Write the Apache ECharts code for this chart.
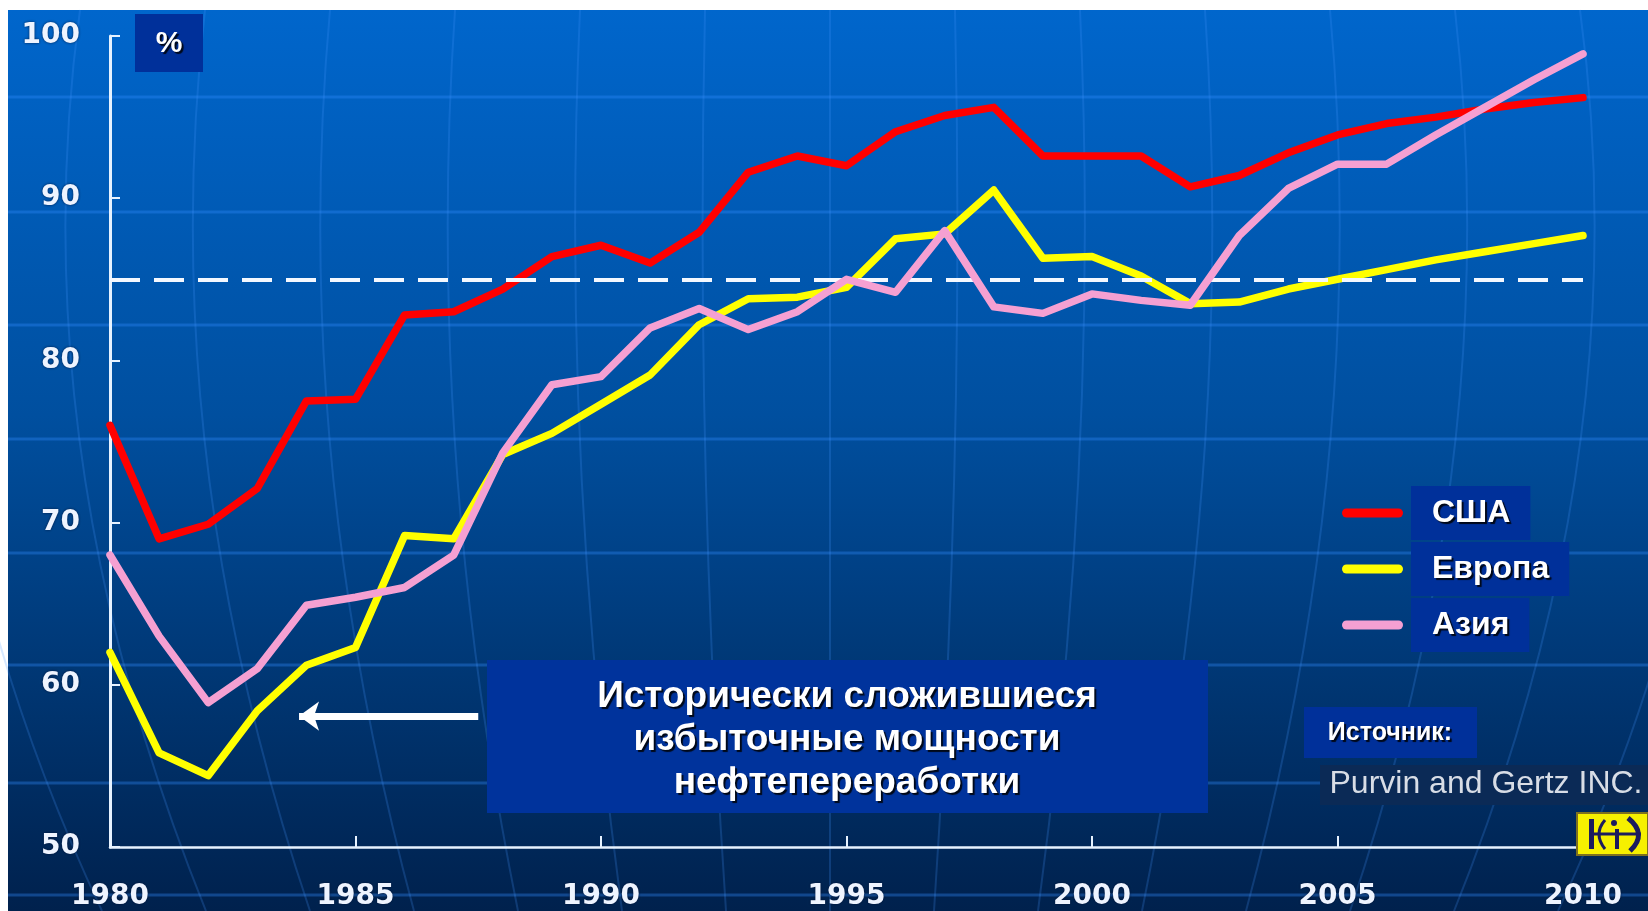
<!DOCTYPE html>
<html>
<head>
<meta charset="utf-8">
<title>Refinery utilization</title>
<script src="https://cdn.jsdelivr.net/npm/echarts@6/dist/echarts.min.js"></script>
<style>
  html, body { margin: 0; padding: 0; background: #ffffff; }
  #main { width: 1648px; height: 911px; }
</style>
</head>
<body>
<div id="main"></div>
<script>
// data
var years = [1980, 1981, 1982, 1983, 1984, 1985, 1986, 1987, 1988, 1989, 1990,
  1991, 1992, 1993, 1994, 1995, 1996, 1997, 1998, 1999, 2000,
  2001, 2002, 2003, 2004, 2005, 2006, 2007, 2008, 2009, 2010];
var usa = [76.0, 69.0, 69.9, 72.1, 77.5, 77.6, 82.8, 83.0, 84.4, 86.4, 87.1,
  86.0, 87.9, 91.6, 92.6, 92.0, 94.1, 95.1, 95.6, 92.6, 92.6,
  92.6, 90.7, 91.4, 92.8, 93.9, 94.6, 95.0, 95.5, 95.9, 96.2];
var europe = [62.0, 55.8, 54.4, 58.4, 61.2, 62.3, 69.2, 69.0, 74.2, 75.5, 77.3,
  79.1, 82.2, 83.8, 83.9, 84.5, 87.5, 87.8, 90.5, 86.3, 86.4,
  85.2, 83.5, 83.6, 84.4, 85.0, 85.6, 86.2, 86.7, 87.2, 87.7];
var asia = [68.0, 63.0, 58.9, 61.0, 64.9, 65.4, 66.0, 68.0, 74.3, 78.5, 79.0,
  82.0, 83.2, 81.9, 83.0, 85.0, 84.2, 88.0, 83.3, 82.9, 84.1,
  83.7, 83.4, 87.7, 90.6, 92.1, 92.1, 93.9, 95.6, 97.3, 98.9];
var seriesNames = ["США", "Европа", "Азия"];
var seriesColors = ["#ff0000", "#ffff00", "#f5a0d2"];
var normLevel = 85;        // dashed reference level
var forecastStart = 2003.3; // vertical divider
var noteLines = ["Исторически сложившиеся", "избыточные мощности", "нефтепереработки"];

function pairs(vals) {
  var out = [];
  for (var i = 0; i < years.length; i++) out.push([years[i], vals[i]]);
  return out;
}

var chart = echarts.init(document.getElementById("main"));

// background decoration: horizontal bands and globe meridians
var decor = [
  {
    type: "rect", z: -100,
    shape: { x: 8, y: 10, width: 1640, height: 901 },
    style: {
      fill: new echarts.graphic.LinearGradient(0, 0, 0, 1, [
        { offset: 0, color: "#0066cc" },
        { offset: 0.45, color: "#004f9f" },
        { offset: 1, color: "#00214d" }
      ])
    }
  }
];
[97, 212, 325, 439, 553, 665, 783, 895].forEach(function(y) {
  decor.push({
    type: "line", z: -90,
    shape: { x1: 8, y1: y, x2: 1648, y2: y },
    style: { stroke: "rgba(50,140,255,0.35)", lineWidth: 3 }
  });
});
for (var k = -7; k <= 7; k++) {
  var xt = 830 + k * 125;
  var xb = 830 + k * 104;
  decor.push({
    type: "bezierCurve", z: -90,
    shape: { x1: xt, y1: 10, cpx1: xt + (xt - 830) * 0.08, cpy1: 450, x2: xb, y2: 911 },
    style: { stroke: "rgba(70,150,255,0.22)", lineWidth: 2, fill: null }
  });
}

var shadowText = {
  textShadowColor: "rgba(0,0,0,0.85)",
  textShadowOffsetX: 2,
  textShadowOffsetY: 2,
  textShadowBlur: 1
};

function boxText(x, y, text, font, color) {
  return {
    type: "text", z: 60,
    style: {
      x: x, y: y, text: text, fill: color || "#ffffff", font: font,
      textAlign: "center", textVerticalAlign: "middle",
      align: "center", verticalAlign: "middle", lineHeight: 43
    }
  };
}

var pctText = boxText(169, 44, "%", 'bold 30px "Liberation Sans"');
Object.assign(pctText.style, shadowText);
var note = boxText(847, 740, noteLines.join("\n"), 'bold 37px "Liberation Sans"');
Object.assign(note.style, shadowText);
var srcLabel = boxText(1390, 733, "Источник:", 'bold 25px "Liberation Sans"');
Object.assign(srcLabel.style, shadowText);
var srcName = boxText(1486, 784, "Purvin and Gertz INC.", '32px "Liberation Sans"', "#d8dde6");

var navy = "#1c1c5e";
var overlay = [
  { type: "rect", z: 50, shape: { x: 135, y: 14, width: 68, height: 58 }, style: { fill: "#00309a" } },
  pctText,
  { type: "rect", z: 50, shape: { x: 487, y: 660, width: 721, height: 153 }, style: { fill: "#00339c" } },
  note,
  { type: "rect", z: 50, shape: { x: 1304, y: 707, width: 173, height: 51 }, style: { fill: "#00309a" } },
  srcLabel,
  { type: "rect", z: 50, shape: { x: 1320, y: 765, width: 328, height: 40 }, style: { fill: "#0b2a56" } },
  srcName,
  // logo
  { type: "rect", z: 50, shape: { x: 1577, y: 813, width: 71, height: 42 },
    style: { fill: "#f6f000", stroke: "#7d7020", lineWidth: 2 } },
  { type: "rect", z: 51, shape: { x: 1589, y: 819, width: 5, height: 30 }, style: { fill: navy } },
  { type: "line", z: 51, shape: { x1: 1593, y1: 834, x2: 1641, y2: 834 }, style: { stroke: navy, lineWidth: 3 } },
  { type: "bezierCurve", z: 51, shape: { x1: 1605, y1: 820, cpx1: 1593, cpy1: 834, x2: 1605, y2: 849 },
    style: { stroke: navy, lineWidth: 3, fill: null } },
  { type: "rect", z: 51, shape: { x: 1615, y: 829, width: 4, height: 20 }, style: { fill: navy } },
  { type: "circle", z: 51, shape: { cx: 1614, cy: 823, r: 3 }, style: { fill: navy } },
  { type: "bezierCurve", z: 51, shape: { x1: 1628, y1: 818, cpx1: 1648, cpy1: 834, x2: 1630, y2: 851 },
    style: { stroke: navy, lineWidth: 5, fill: null } }
];

var axisText = {
  color: "#eef4ff",
  fontFamily: "DejaVu Sans",
  fontWeight: "bold",
  fontSize: 28,
  textShadowColor: "rgba(0,15,50,0.8)",
  textShadowBlur: 3
};

var lineSeries = seriesNames.map(function(name, i) {
  return {
    name: name,
    type: "line",
    data: pairs([usa, europe, asia][i]),
    showSymbol: false,
    z: 3 + i,
    lineStyle: { color: seriesColors[i], width: 7.5, cap: "round", join: "round" },
    itemStyle: { color: seriesColors[i] },
    emphasis: { disabled: true }
  };
});

chart.setOption({
  backgroundColor: "#ffffff",
  animation: false,
  graphic: decor.concat(overlay),
  grid: { left: 110, right: 65, top: 36, bottom: 62 },
  legend: {
    orient: "vertical",
    left: 1342,
    top: 486,
    padding: 0,
    itemGap: 2,
    itemWidth: 61,
    itemHeight: 9,
    icon: "path://M4.5,0 h52 a4.5,4.5 0 0 1 0,9 h-52 a4.5,4.5 0 0 1 0,-9 z",
    data: seriesNames,
    formatter: function(name) {
      return "{g|}{t|" + name + "}";
    },
    textStyle: {
      fontSize: 32,
      rich: {
        g: { width: 3 },
        t: Object.assign({
          color: "#ffffff",
          fontFamily: "Liberation Sans",
          fontWeight: "bold",
          fontSize: 32,
          lineHeight: 36,
          backgroundColor: "#00309a",
          padding: [11, 20, 11, 21]
        }, shadowText)
      }
    }
  },
  xAxis: {
    type: "value",
    min: 1980,
    max: 2010,
    interval: 5,
    splitLine: { show: false },
    axisLine: { show: true, onZero: false, lineStyle: { color: "#e6f2ff", width: 2.5 } },
    axisTick: { show: true, inside: true, length: 11, lineStyle: { color: "#e6f2ff", width: 2 } },
    axisLabel: Object.assign({
      margin: 36,
      formatter: function(v) { return String(v); }
    }, axisText)
  },
  yAxis: {
    type: "value",
    min: 50,
    max: 100,
    interval: 10,
    splitLine: { show: false },
    axisLine: { show: true, lineStyle: { color: "#e6f2ff", width: 3 } },
    axisTick: { show: true, inside: true, length: 10, lineStyle: { color: "#e6f2ff", width: 2 } },
    axisLabel: Object.assign({ margin: 30 }, axisText)
  },
  series: lineSeries.concat([
    {
      // reference lines and arrow drawn above the curves
      name: "marks",
      type: "line",
      data: [],
      z: 10,
      markLine: {
        silent: true,
        symbol: ["none", "none"],
        label: { show: false },
        animation: false,
        data: [
          {
            yAxis: normLevel,
            lineStyle: { color: "#f4f8ff", width: 4, type: [30, 14] }
          },
          [
            { coord: [forecastStart, 99.2], lineStyle: { color: "#f4f8ff", width: 3, type: "solid" } },
            { coord: [forecastStart, 49.45] }
          ],
          [
            { coord: [1983.85, 58.07], symbol: "arrow", symbolSize: [22, 20],
              lineStyle: { color: "#ffffff", width: 7, type: "solid" } },
            { coord: [1987.5, 58.07], symbol: "none" }
          ]
        ]
      }
    }
  ])
});

window.onresize = function() {
  chart.resize();
};
</script>
</body>
</html>
